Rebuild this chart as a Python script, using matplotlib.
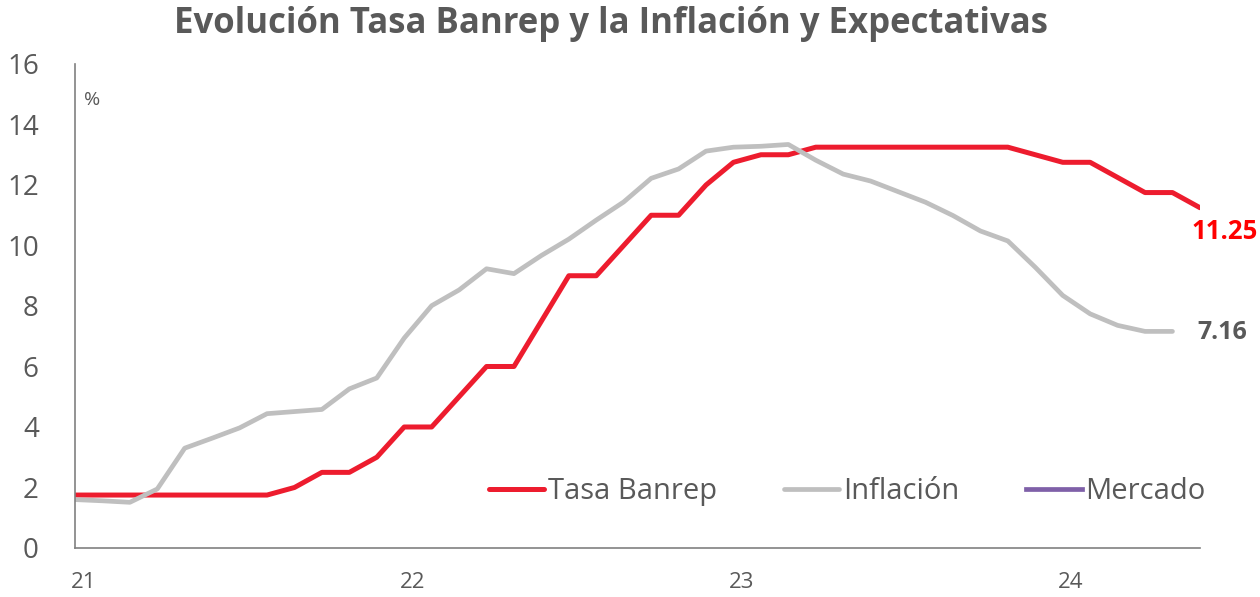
import numpy as np
import matplotlib.pyplot as plt

plt.rcParams['font.family'] = ['Open Sans', 'DejaVu Sans']

# monthly, Jan 2021 onwards
tasa_banrep = [1.75, 1.75, 1.75, 1.75, 1.75, 1.75, 1.75, 1.75, 2.0, 2.5, 2.5, 3.0,
               4.0, 4.0, 5.0, 6.0, 6.0, 7.5, 9.0, 9.0, 10.0, 11.0, 11.0, 12.0,
               12.75, 13.0, 13.0, 13.25, 13.25, 13.25, 13.25, 13.25, 13.25, 13.25, 13.25, 13.0,
               12.75, 12.75, 12.25, 11.75, 11.75, 11.25]
inflacion = [1.60, 1.56, 1.51, 1.95, 3.30, 3.63, 3.97, 4.44, 4.51, 4.58, 5.26, 5.62,
             6.94, 8.01, 8.53, 9.23, 9.07, 9.67, 10.21, 10.84, 11.44, 12.22, 12.53, 13.12,
             13.25, 13.28, 13.34, 12.82, 12.36, 12.13, 11.78, 11.43, 10.99, 10.48, 10.15, 9.28,
             8.35, 7.74, 7.36, 7.16, 7.16]
mercado = []
year_labels = ["21", "22", "23", "24"]

c_red = "#ED1C2E"
c_gray = "#BFBFBF"
c_purple = "#7F60A8"
c_text = "#595959"

fig = plt.figure(figsize=(12.6, 5.97), dpi=100)
ax = fig.add_axes([0.0595, 0.0821, 0.8928, 0.8107])

x_red = np.arange(len(tasa_banrep))
x_inf = np.arange(len(inflacion))
ax.plot(x_red, tasa_banrep, color=c_red, lw=3.6, label="Tasa Banrep", solid_capstyle='round')
ax.plot(x_inf, inflacion, color=c_gray, lw=3.4, label="Inflación", solid_capstyle='round')
ax.plot(np.arange(len(mercado)), mercado, color=c_purple, lw=3.4, label="Mercado")

ax.set_xlim(0, 41)
ax.set_ylim(0, 16)
ax.set_yticks(np.arange(0, 17, 2))
ax.set_xticks([0.3, 12.3, 24.3, 36.3])
ax.set_xticklabels(year_labels)
ax.tick_params(axis='y', length=0, pad=26, labelsize=20, colors=c_text)
ax.tick_params(axis='x', length=0, pad=17, labelsize=16, colors=c_text)

for s in ['top', 'right']:
    ax.spines[s].set_visible(False)
for s in ['left', 'bottom']:
    ax.spines[s].set_color("#808080")
    ax.spines[s].set_linewidth(1.2)

ax.text(0.008, 0.925, "%", transform=ax.transAxes, fontsize=14, color=c_text, va='center')

ax.annotate(f"{tasa_banrep[-1]:.2f}", (x_red[-1], tasa_banrep[-1]), xytext=(18, -17),
            textcoords='offset points', ha='center', va='center',
            fontsize=18.5, fontweight='bold', color="#FF0000", annotation_clip=False)
ax.annotate(f"{inflacion[-1]:.2f}", (x_inf[-1], inflacion[-1]), xytext=(36, -1),
            textcoords='offset points', ha='center', va='center',
            fontsize=18, fontweight='bold', color=c_text, annotation_clip=False)

ax.legend(loc='center left', bbox_to_anchor=(0.355, 0.116), ncol=3, frameon=False,
          fontsize=21, handlelength=1.9, handletextpad=0.12, columnspacing=2.3,
          borderpad=0, labelcolor=c_text)

fig.suptitle("Evolución Tasa Banrep y la Inflación y Expectativas", x=0.485, y=0.99,
             fontsize=25, fontweight='bold', color=c_text, va='top')

fig.savefig("out.png", dpi=100)
